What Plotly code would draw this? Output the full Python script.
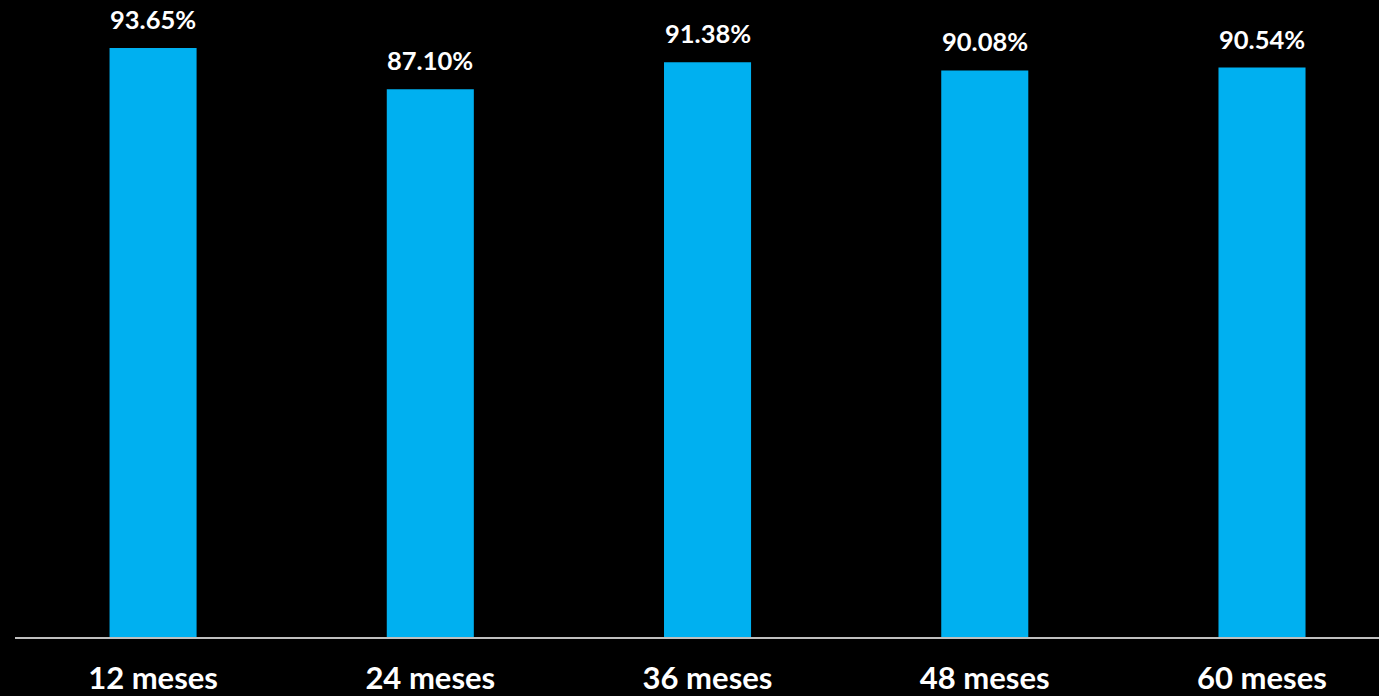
import plotly.graph_objects as go

categories = ["12 meses", "24 meses", "36 meses", "48 meses", "60 meses"]
values = [93.65, 87.10, 91.38, 90.08, 90.54]
labels = ["93.65%", "87.10%", "91.38%", "90.08%", "90.54%"]

fig = go.Figure()
fig.add_trace(go.Bar(
    x=list(range(len(categories))), y=values,
    marker=dict(color="#00B0F0", line=dict(width=0)),
    width=0.314,
))
for i, (v, t) in enumerate(zip(values, labels)):
    fig.add_annotation(x=i, y=v, text=f"<b>{t}</b>", showarrow=False,
                       yanchor="bottom", yshift=12,
                       font=dict(family="Lato", size=25.5, color="white"))

fig.update_layout(
    width=1379, height=696,
    paper_bgcolor="black", plot_bgcolor="black",
    margin=dict(l=15, r=0, t=8, b=57),
    showlegend=False,
    font=dict(family="Lato", color="white"),
)
fig.update_xaxes(
    range=[-0.498, 4.422],
    tickmode="array", tickvals=list(range(len(categories))),
    ticktext=[f"<b>{c}</b>" for c in categories],
    tickfont=dict(family="Lato", size=31, color="white"),
    showline=True, linecolor="#BFBFBF", linewidth=2,
    showgrid=False, zeroline=False,
    ticks="outside", ticklen=13, tickcolor="black",
)
fig.update_yaxes(range=[0, 100], visible=False, showgrid=False, zeroline=False)

fig.write_html("out.html")
